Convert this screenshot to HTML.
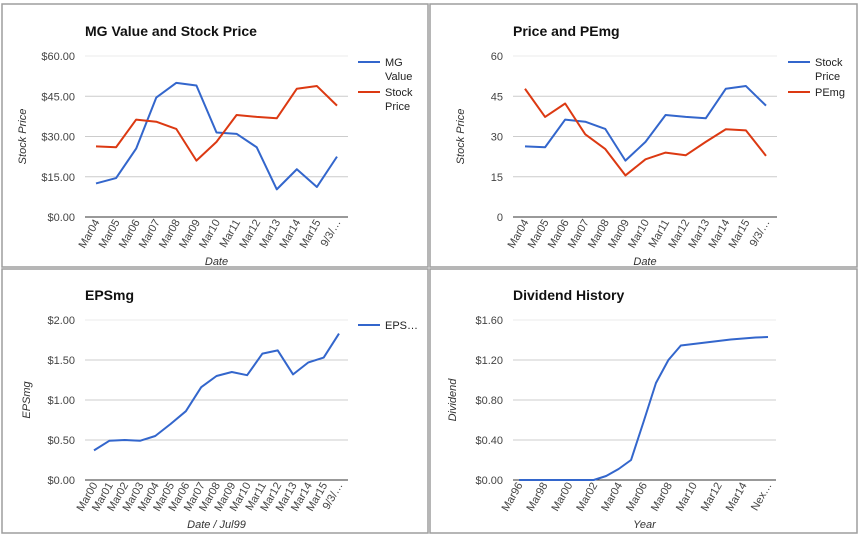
<!DOCTYPE html>
<html><head><meta charset="utf-8"><style>
body{margin:0;width:861px;height:536px;background:#fff;overflow:hidden;font-family:"Liberation Sans",Arial,sans-serif}
svg{position:absolute;left:0;top:0}
</style></head><body>
<svg id="c" width="861" height="536"></svg>
<script>
const catsA=["Mar04","Mar05","Mar06","Mar07","Mar08","Mar09","Mar10","Mar11","Mar12","Mar13","Mar14","Mar15","9/3/…"];
const mgValue=[12.5,14.5,25.5,44.5,50,49,31.5,31,26,10.3,17.8,11.2,22.5];
const stockPrice=[26.3,26,36.3,35.5,32.8,21,28,38,37.3,36.8,47.8,48.8,41.5];
const peMg=[47.8,37.3,42.3,30.8,25.3,15.5,21.5,24,23,28,32.7,32.3,22.8];
const ticksMoney60=["$0.00","$15.00","$30.00","$45.00","$60.00"];
const ticks60=["0","15","30","45","60"];
const catsEps=["Mar00","Mar01","Mar02","Mar03","Mar04","Mar05","Mar06","Mar07","Mar08","Mar09","Mar10","Mar11","Mar12","Mar13","Mar14","Mar15","9/3/…"];
const epsMg=[0.37,0.49,0.50,0.49,0.55,0.70,0.86,1.16,1.30,1.35,1.31,1.58,1.62,1.32,1.47,1.53,1.83];
const ticksEps=["$0.00","$0.50","$1.00","$1.50","$2.00"];
const catsDiv=["Mar96","Mar97","Mar98","Mar99","Mar00","Mar01","Mar02","Mar03","Mar04","Mar05","Mar06","Mar07","Mar08","Mar09","Mar10","Mar11","Mar12","Mar13","Mar14","Mar15","Nex…"];
const dividend=[0,0,0,0,0,0,0,0.04,0.11,0.2,0.58,0.97,1.2,1.345,1.36,1.375,1.39,1.405,1.415,1.425,1.43];
const ticksDiv=["$0.00","$0.40","$0.80","$1.20","$1.60"];

const svg=document.getElementById('c');
const NS="http://www.w3.org/2000/svg";
function mk(t,a,p){const e=document.createElementNS(NS,t);for(const k in a)e.setAttribute(k,a[k]);(p||svg).appendChild(e);return e;}

function chart(o){
  const g=mk('g',{});
  
  
  const b=mk('rect',{x:o.bx,y:o.by,width:o.bw,height:o.bh,fill:'#fff',stroke:'#9e9e9e','stroke-width':1.5},g);
  
  const t=mk('text',{x:o.px0,y:o.ty,'font-size':14,'font-weight':'bold',fill:'#111'},g);t.textContent=o.title;
  
  const ymax=o.ymax, n=o.cats.length;
  const Y=v=>o.py1-(v/ymax)*(o.py1-o.py0);
  const X=i=>o.x0+(o.x1-o.x0)*i/(n-1);
  o.ticks.forEach((lb,i)=>{
    const v=ymax*i/(o.ticks.length-1),y=Y(v);
    const l=mk('line',{x1:o.px0,x2:o.px1,y1:y,y2:y,stroke:i==0?'#333':(i==o.ticks.length-1?'#ebebeb':'#ccc'),'stroke-width':1},g);
    
    const tx=mk('text',{x:o.px0-10,y:y+4,'font-size':11,fill:'#444','text-anchor':'end'},g);tx.textContent=lb;
    
  });
  o.cats.forEach((c,i)=>{
    if(i%o.step)return;
    const x=X(i)+4,y=o.py1+5;
    const tx=mk('text',{x:x,y:y,'font-size':11,fill:'#444','text-anchor':'end',transform:`rotate(-60 ${x} ${y})`},g);tx.textContent=c;
    
  });
  const yt=mk('text',{x:0,y:0,'font-size':11,'font-style':'italic',fill:'#333','text-anchor':'middle',transform:`translate(${o.ytx},${(o.py0+o.py1)/2}) rotate(-90)`},g);yt.textContent=o.ytitle;
  
  const xt=mk('text',{x:(o.px0+o.px1)/2,y:o.xty,'font-size':11,'font-style':'italic',fill:'#333','text-anchor':'middle'},g);xt.textContent=o.xtitle;
  
  o.series.forEach((s,si)=>{
    const p=mk('polyline',{points:s.data.map((v,i)=>X(i)+','+Y(v)).join(' '),fill:'none',stroke:s.color,'stroke-width':2,'stroke-linejoin':'round'},g);
    
    const ly=o.ly+si*30;
    const ll=mk('line',{x1:o.lx,x2:o.lx+22,y1:ly,y2:ly,stroke:s.color,'stroke-width':2},g);
    
    s.label.forEach((w,wi)=>{
      const lt=mk('text',{x:o.lx+27,y:ly+4+wi*14,'font-size':11,fill:'#222'},g);lt.textContent=w;
      
    });
  });
}
const blue='#3366cc',red='#dc3912';
chart({name:'mg-value-chart',bx:2,by:4,bw:426,bh:263,title:'MG Value and Stock Price',ty:36,px0:85,px1:348,py0:56,py1:217,x0:96,x1:337,
  ymax:60,ticks:ticksMoney60,cats:catsA,step:1,ytitle:'Stock Price',ytx:26,xtitle:'Date',xty:265,lx:358,ly:62,
  series:[{key:'mg-value',data:mgValue,color:blue,label:['MG','Value']},{key:'stock-price',data:stockPrice,color:red,label:['Stock','Price']}]});
chart({name:'price-pemg-chart',bx:430,by:4,bw:427,bh:263,title:'Price and PEmg',ty:36,px0:513,px1:777,py0:56,py1:217,x0:525,x1:766,
  ymax:60,ticks:ticks60,cats:catsA,step:1,ytitle:'Stock Price',ytx:464,xtitle:'Date',xty:265,lx:788,ly:62,
  series:[{key:'stock-price',data:stockPrice,color:blue,label:['Stock','Price']},{key:'pemg',data:peMg,color:red,label:['PEmg']}]});
chart({name:'epsmg-chart',bx:2,by:269,bw:426,bh:264,title:'EPSmg',ty:300,px0:85,px1:348,py0:320,py1:480,x0:94,x1:339,
  ymax:2,ticks:ticksEps,cats:catsEps,step:1,ytitle:'EPSmg',ytx:30,xtitle:'Date / Jul99',xty:528,lx:358,ly:325,
  series:[{key:'epsmg',data:epsMg,color:blue,label:['EPS…']}]});
chart({name:'dividend-chart',bx:430,by:269,bw:427,bh:264,title:'Dividend History',ty:300,px0:513,px1:776,py0:320,py1:480,x0:519,x1:768,
  ymax:1.6,ticks:ticksDiv,cats:catsDiv,step:2,ytitle:'Dividend',ytx:456,xtitle:'Year',xty:528,lx:900,ly:-50,
  series:[{key:'dividend',data:dividend,color:blue,label:[]}]});
</script>
</body></html>
